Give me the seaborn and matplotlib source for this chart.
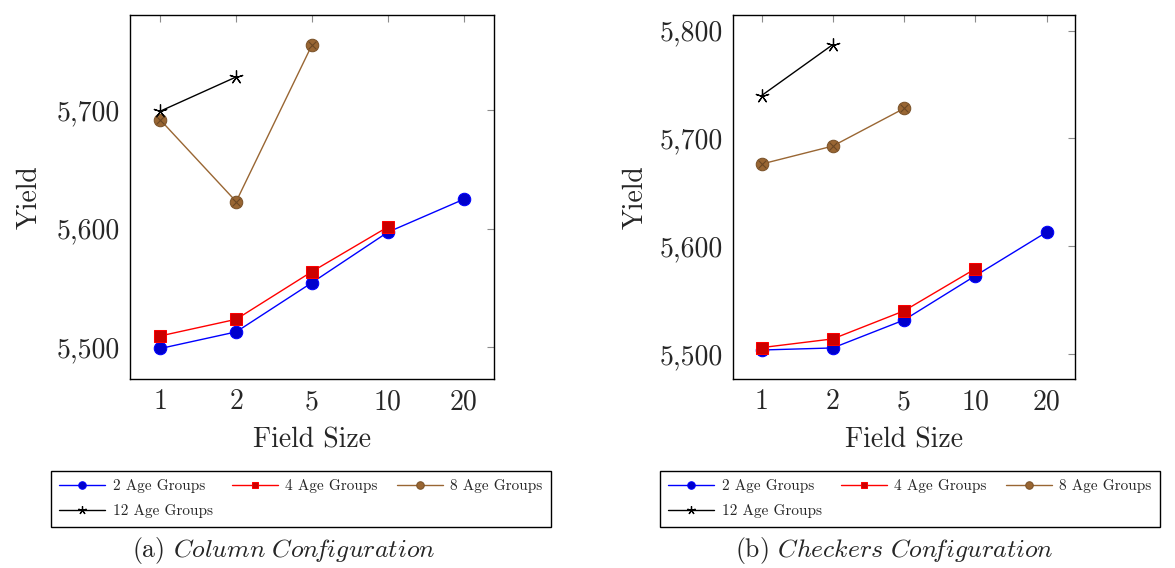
import pandas as pd
import seaborn as sns
import matplotlib.pyplot as plt
from matplotlib.ticker import FuncFormatter

# Datos
field_sizes = ['1', '2', '5', '10', '20']
series_names = ['2 Age Groups', '4 Age Groups', '8 Age Groups', '12 Age Groups']

column_2 = [5499, 5513, 5554.5, 5597, 5624.7]
column_4 = [5509.6, 5523.6, 5563.8, 5601.4]
column_8 = [5691.6, 5622.8, 5754.8]
column_12 = [5699, 5727.8]

checkers_2 = [5503.7, 5505.6, 5531.5, 5572.5, 5613]
checkers_4 = [5505.9, 5514, 5540, 5579]
checkers_8 = [5676.2, 5692.9, 5727.8]
checkers_12 = [5739.7, 5787]

captions = ['(a) $\\mathit{Column\\ Con\\!figuration}$', '(b) $\\mathit{Checkers\\ Con\\!figuration}$']

sns.set_theme(style='white')
plt.rcParams['font.family'] = ['cmr10', 'DejaVu Serif']
plt.rcParams['mathtext.fontset'] = 'cm'
plt.rcParams['axes.formatter.use_mathtext'] = True
plt.rcParams['axes.unicode_minus'] = False

estilos = [
    dict(color='#0000FF', marker='o', markersize=9, markerfacecolor='#0000CC', markeredgecolor='#0000FF'),
    dict(color='#FF0000', marker='s', markersize=8, markerfacecolor='#CC0000', markeredgecolor='#FF0000'),
    dict(color='#996633', marker='o', markersize=9, markerfacecolor='#996633', markeredgecolor='#7A5229'),
    dict(color='black', marker=(5, 2), markersize=10, markeredgewidth=0.9, markeredgecolor='black'),
]


def tabla(valores):
    filas = []
    for nombre, ys in zip(series_names, valores):
        for x, y in zip(field_sizes, ys):
            filas.append({'Field Size': x, 'Yield': y, 'Serie': nombre})
    return pd.DataFrame(filas)


def dibujar_panel(ax, valores, ylim, yticks, ypad):
    datos = tabla(valores)
    for nombre, estilo in zip(series_names, estilos):
        sub = datos[datos['Serie'] == nombre]
        sns.lineplot(x='Field Size', y='Yield', data=sub, ax=ax, label=nombre,
                     linewidth=1.0, **estilo)
        if nombre == '8 Age Groups':
            # cruz interior del marcador (otimes)
            sns.scatterplot(x='Field Size', y='Yield', data=sub, ax=ax, marker='x',
                            s=30, color='#6B4724', linewidth=0.8, zorder=5, legend=False)
    ax.set_xlim(-0.4, 4.4)
    ax.set_ylim(*ylim)
    ax.set_yticks(yticks)
    ax.yaxis.set_major_formatter(FuncFormatter(lambda v, p: f'{v:,.0f}'))
    ax.set_xlabel('Field Size', fontsize=20, labelpad=8.5)
    ax.set_ylabel('Yield', fontsize=20, labelpad=ypad)
    ax.tick_params(direction='in', length=5, width=0.8, color='0.55', labelsize=20,
                   top=True, right=True, pad=7)
    for s in ax.spines.values():
        s.set_color('black')
        s.set_linewidth(1.0)
    handles, labels = ax.get_legend_handles_labels()
    ax.get_legend().remove()
    return handles, labels


fig = plt.figure(figsize=(11.75, 5.68), dpi=100)
ax1 = fig.add_axes([130 / 1175, 1 - 379 / 568, 364 / 1175, 364 / 568])
ax2 = fig.add_axes([733 / 1175, 1 - 379 / 568, 342 / 1175, 364 / 568])

h1, l1 = dibujar_panel(ax1, [column_2, column_4, column_8, column_12], (5473.3, 5780),
                       [5500, 5600, 5700], 10)
h2, l2 = dibujar_panel(ax2, [checkers_2, checkers_4, checkers_8, checkers_12], (5476.8, 5814.5),
                       [5500, 5600, 5700, 5800], 8)

orden = [0, 3, 1, 2]
for h, l, x0, cx, cap in [(h1, l1, 51, 284, captions[0]), (h2, l2, 660, 894, captions[1])]:
    leg = fig.legend([h[i] for i in orden], [l[i] for i in orden], ncol=3, loc='upper left',
                     bbox_to_anchor=(x0 / 1175, 1 - 471 / 568),
                     fontsize=11, markerscale=0.6, handlelength=3.0, handletextpad=0.5,
                     columnspacing=1.25, borderpad=0.55, labelspacing=0.7, borderaxespad=0,
                     fancybox=False, frameon=True, edgecolor='black', framealpha=1)
    leg.get_frame().set_linewidth(1.0)
    fig.text(cx / 1175, 1 - 551 / 568, cap, ha='center', va='center', fontsize=18.5)

plt.savefig('out.png', dpi=100)
